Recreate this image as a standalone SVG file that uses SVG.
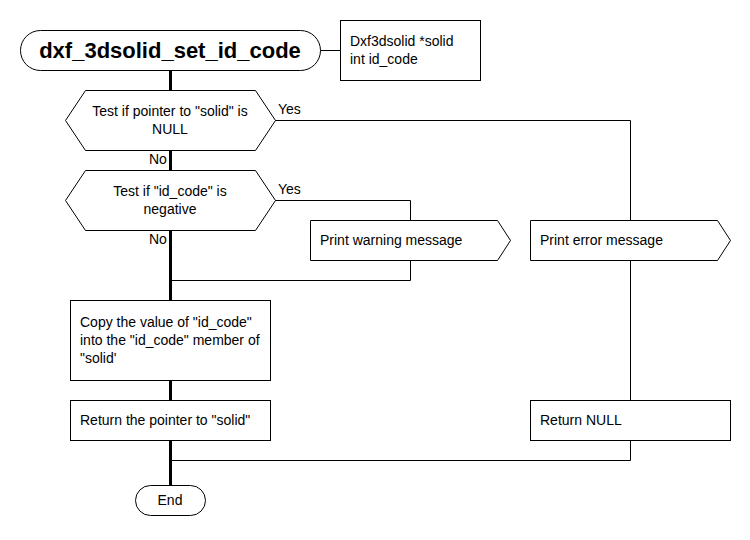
<svg xmlns="http://www.w3.org/2000/svg" width="750" height="540" viewBox="0 0 750 540">
<style>
.s{fill:#fff;stroke:#000;stroke-width:1}
.t{font-family:"Liberation Sans",Arial,sans-serif;font-size:14px;fill:#000}
.c{text-anchor:middle}
.thin{fill:none;stroke:#000;stroke-width:1}
.thick{fill:none;stroke:#000;stroke-width:3}
</style>
<rect width="750" height="540" fill="#fff"/>
<g id="connectors">
<path class="thin" d="M320.5 50.5H340.5"/>
<path class="thick" d="M170.5 70V90"/>
<path class="thick" d="M170.5 150V170"/>
<path class="thick" d="M170.5 230V300"/>
<path class="thick" d="M170.5 380V400"/>
<path class="thick" d="M170.5 440V485"/>
<path class="thin" d="M275 120.5H630.5V220"/>
<path class="thin" d="M275 200.5H410.5V220"/>
<path class="thin" d="M410.5 260V280.5H170"/>
<path class="thin" d="M630.5 260V400"/>
<path class="thin" d="M630.5 440V460.5H170"/>
<text class="t" x="278" y="114">Yes</text>
<text class="t" x="278" y="194">Yes</text>
<text class="t" x="149" y="164">No</text>
<text class="t" x="149" y="244">No</text>
</g>
<g id="start">
<rect class="s" x="20.5" y="30.5" width="300" height="40" rx="20"/>
<text x="170" y="58" text-anchor="middle" font-family="'Liberation Sans',Arial,sans-serif" font-size="22" font-weight="bold">dxf_3dsolid_set_id_code</text>
</g>
<g id="params">
<rect class="s" x="340.5" y="20.5" width="140" height="60"/>
<text class="t" x="350" y="46">Dxf3dsolid *solid</text>
<text class="t" x="350" y="64">int id_code</text>
</g>
<g id="test_null">
<polygon class="s" points="65.5,120.5 85.5,90.5 255.5,90.5 275.5,120.5 255.5,150.5 85.5,150.5"/>
<text class="t c" x="170" y="116">Test if pointer to "solid" is</text>
<text class="t c" x="170" y="134">NULL</text>
</g>
<g id="test_negative">
<polygon class="s" points="65.5,200.5 85.5,170.5 255.5,170.5 275.5,200.5 255.5,230.5 85.5,230.5"/>
<text class="t c" x="170" y="196">Test if "id_code" is</text>
<text class="t c" x="170" y="214">negative</text>
</g>
<g id="print_warning">
<polygon class="s" points="310.5,220.5 497.5,220.5 510.5,240.5 497.5,260.5 310.5,260.5"/>
<text class="t" x="320" y="245">Print warning message</text>
</g>
<g id="print_error">
<polygon class="s" points="530.5,220.5 717.5,220.5 730.5,240.5 717.5,260.5 530.5,260.5"/>
<text class="t" x="540" y="245">Print error message</text>
</g>
<g id="copy">
<rect class="s" x="70.5" y="300.5" width="200" height="80"/>
<text class="t" x="80" y="327">Copy the value of "id_code"</text>
<text class="t" x="80" y="345">into the "id_code" member of</text>
<text class="t" x="80" y="363">"solid'</text>
</g>
<g id="return_pointer">
<rect class="s" x="70.5" y="400.5" width="200" height="40"/>
<text class="t" x="80" y="425">Return the pointer to "solid"</text>
</g>
<g id="return_null">
<rect class="s" x="530.5" y="400.5" width="200" height="40"/>
<text class="t" x="540" y="425">Return NULL</text>
</g>
<g id="end">
<rect class="s" x="135.5" y="485.5" width="70" height="30" rx="15"/>
<text class="t c" x="170" y="505">End</text>
</g>
</svg>
